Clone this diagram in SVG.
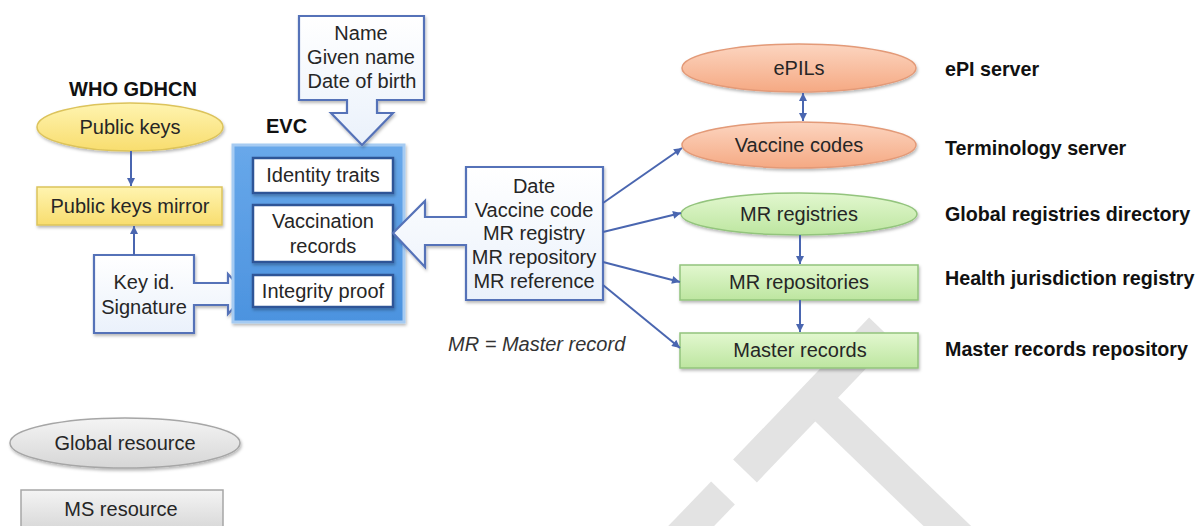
<svg xmlns="http://www.w3.org/2000/svg" width="1200" height="526" viewBox="0 0 1200 526">
<defs>
<style>
text{font-family:"Liberation Sans",Arial,sans-serif;font-size:20px;fill:#262626}
.c{text-anchor:middle}
.b{font-weight:bold;fill:#111}
.lab{font-weight:bold;fill:#111;font-size:19.7px}
.it{font-style:italic;fill:#333}
.conn{stroke:#4A66B0;stroke-width:2;fill:none}
.call{fill:url(#gCall);stroke:#5572B8;stroke-width:2.2;stroke-linejoin:miter}
.inner{fill:#fff;stroke:#2F5597;stroke-width:2.5}
.wm{stroke:#E3E3E3;stroke-width:33;fill:none}
</style>
<linearGradient id="gOr" x1="0" y1="0" x2="0" y2="1"><stop offset="0" stop-color="#FCD5C0"/><stop offset="1" stop-color="#F5A983"/></linearGradient>
<linearGradient id="gGr" x1="0" y1="0" x2="0" y2="1"><stop offset="0" stop-color="#E2F7CF"/><stop offset="1" stop-color="#BDE6A0"/></linearGradient>
<linearGradient id="gYe" x1="0" y1="0" x2="0" y2="1"><stop offset="0" stop-color="#FFF4B0"/><stop offset="1" stop-color="#F8DD6E"/></linearGradient>
<linearGradient id="gGy" x1="0" y1="0" x2="0" y2="1"><stop offset="0" stop-color="#F4F4F4"/><stop offset="1" stop-color="#D6D6D6"/></linearGradient>
<linearGradient id="gCall" x1="0" y1="0" x2="0" y2="1"><stop offset="0" stop-color="#FFFFFF"/><stop offset="1" stop-color="#EAF1FB"/></linearGradient>
<linearGradient id="gEvc" x1="0" y1="0" x2="0" y2="1"><stop offset="0" stop-color="#68A8EA"/><stop offset="1" stop-color="#4C93DF"/></linearGradient>
<filter id="sh" x="-10%" y="-10%" width="130%" height="140%"><feDropShadow dx="1" dy="2" stdDeviation="1.5" flood-color="#000" flood-opacity="0.28"/></filter>
<marker id="ah" viewBox="0 0 10 10" refX="10" refY="5" markerWidth="9" markerHeight="8" markerUnits="userSpaceOnUse" orient="auto-start-reverse"><path d="M0,0 L10,5 L0,10 Z" fill="#4A66B0"/></marker>
</defs>

<g id="watermark">
<line class="wm" x1="881" y1="329" x2="745" y2="471"/>
<line class="wm" x1="825" y1="408" x2="995" y2="572"/>
<line class="wm" x1="723" y1="493" x2="615" y2="605"/>
</g>

<g id="who-label"><text class="b c" x="133" y="96">WHO GDHCN</text></g>
<g id="public-keys"><ellipse cx="130" cy="127" rx="93" ry="24" fill="url(#gYe)" stroke="#DCC35B" stroke-width="1.5" filter="url(#sh)"/><text class="c" x="130" y="134">Public keys</text></g>
<g id="public-keys-mirror"><rect x="37" y="187" width="185" height="38" fill="url(#gYe)" stroke="#DCC35B" stroke-width="1.5" filter="url(#sh)"/><text class="c" x="130" y="213">Public keys mirror</text></g>
<g id="key-signature"><path class="call" filter="url(#sh)" d="M94,255 H194 V283 H228 V274 L246,294 L228,314 V305 H194 V333 H94 Z"/><text class="c" x="144" y="289">Key id.</text><text class="c" x="144" y="314">Signature</text></g>

<g id="evc">
<rect x="233" y="145" width="171" height="177" fill="url(#gEvc)" stroke="#A6CBF2" stroke-width="3" filter="url(#sh)"/>
<text class="b" x="266" y="133">EVC</text>
<g id="identity-traits"><rect class="inner" x="253" y="158" width="140" height="35" filter="url(#sh)"/><text class="c" x="323" y="182">Identity traits</text></g>
<g id="vaccination-records"><rect class="inner" x="253" y="205" width="140" height="57" filter="url(#sh)"/><text class="c" x="323" y="228">Vaccination</text><text class="c" x="323" y="253">records</text></g>
<g id="integrity-proof"><rect class="inner" x="253" y="275" width="140" height="32" filter="url(#sh)"/><text class="c" x="323" y="298">Integrity proof</text></g>
</g>

<g id="identity-callout"><path class="call" filter="url(#sh)" d="M299,16 H424 V100 H377 V113 H393 L362,145 L331,113 H347 V100 H299 Z"/><text class="c" x="361" y="40">Name</text><text class="c" x="361" y="64">Given name</text><text class="c" x="362" y="88">Date of birth</text></g>

<g id="record-callout"><path class="call" filter="url(#sh)" d="M466,167 H603 V300 H466 V245 H425 V267 L393,233 L425,201 V217 H466 Z"/><text class="c" x="534" y="193">Date</text><text class="c" x="534" y="217">Vaccine code</text><text class="c" x="534" y="240">MR registry</text><text class="c" x="534" y="264">MR repository</text><text class="c" x="534" y="288">MR reference</text></g>

<g id="mr-note"><text class="it" x="448" y="351">MR = Master record</text></g>

<g id="epils"><ellipse cx="799" cy="68" rx="117" ry="24" fill="url(#gOr)" stroke="#E39A78" stroke-width="1.5" filter="url(#sh)"/><text class="c" x="799" y="75">ePILs</text></g>
<g id="vaccine-codes"><ellipse cx="799" cy="145" rx="117" ry="23" fill="url(#gOr)" stroke="#E39A78" stroke-width="1.5" filter="url(#sh)"/><text class="c" x="799" y="152">Vaccine codes</text></g>
<g id="mr-registries"><ellipse cx="799" cy="214" rx="118" ry="21" fill="url(#gGr)" stroke="#93C47D" stroke-width="1.5" filter="url(#sh)"/><text class="c" x="799" y="221">MR registries</text></g>
<g id="mr-repositories"><rect x="680" y="265" width="238" height="35" fill="url(#gGr)" stroke="#93C47D" stroke-width="1.5" filter="url(#sh)"/><text class="c" x="799" y="289">MR repositories</text></g>
<g id="master-records"><rect x="680" y="333" width="238" height="35" fill="url(#gGr)" stroke="#93C47D" stroke-width="1.5" filter="url(#sh)"/><text class="c" x="800" y="357">Master records</text></g>

<g id="right-labels">
<text class="lab" x="945" y="76">ePI server</text>
<text class="lab" x="945" y="155">Terminology server</text>
<text class="lab" x="945" y="221">Global registries directory</text>
<text class="lab" x="945" y="285">Health jurisdiction registry</text>
<text class="lab" x="945" y="356">Master records repository</text>
</g>

<g id="legend-global"><ellipse cx="125" cy="443" rx="115" ry="25" fill="url(#gGy)" stroke="#A6A6A6" stroke-width="1.5" filter="url(#sh)"/><text class="c" x="125" y="450">Global resource</text></g>
<g id="legend-ms"><rect x="21" y="490" width="202" height="42" fill="url(#gGy)" stroke="#A6A6A6" stroke-width="1.5"/><text class="c" x="121" y="516">MS resource</text></g>

<g id="connectors">
<line class="conn" x1="131" y1="151" x2="131" y2="186" marker-end="url(#ah)"/>
<line class="conn" x1="134" y1="255" x2="134" y2="226" marker-end="url(#ah)"/>
<line class="conn" x1="803" y1="93" x2="803" y2="121" marker-start="url(#ah)" marker-end="url(#ah)"/>
<line class="conn" x1="800" y1="235" x2="800" y2="264" marker-end="url(#ah)"/>
<line class="conn" x1="800" y1="300" x2="800" y2="332" marker-end="url(#ah)"/>
<line class="conn" x1="603" y1="203" x2="682" y2="148" marker-end="url(#ah)"/>
<line class="conn" x1="603" y1="232" x2="681" y2="213" marker-end="url(#ah)"/>
<line class="conn" x1="603" y1="262" x2="680" y2="282" marker-end="url(#ah)"/>
<line class="conn" x1="603" y1="285" x2="680" y2="348" marker-end="url(#ah)"/>
</g>
</svg>
